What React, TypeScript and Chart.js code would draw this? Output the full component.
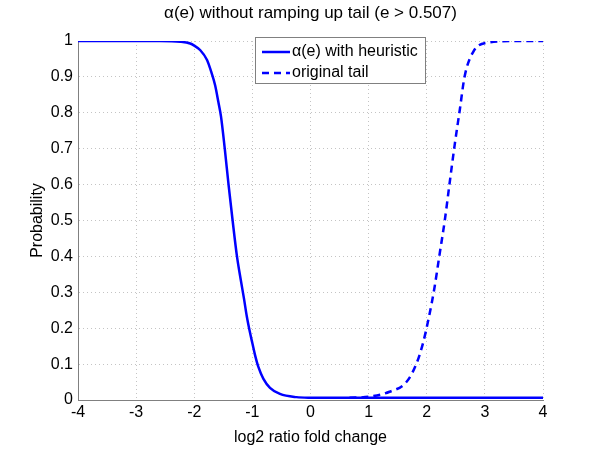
import React, { useEffect, useRef } from "react";
import { Chart, registerables } from "chart.js";

Chart.register(...registerables);

const titleText = "α(e) without ramping up tail (e > 0.507)";
const xLabel = "log2 ratio fold change";
const yLabel = "Probability";
const seriesNames = ["α(e) with heuristic", "original tail"];

const heuristicX = [-4, -3, -2.59, -2.24, -2.07, -2.0, -1.9, -1.78, -1.7, -1.64, -1.585, -1.54, -1.475, -1.41, -1.34, -1.265, -1.2, -1.143, -1.097, -1.04, -1.0, -0.954, -0.897, -0.81, -0.697, -0.526, -0.24, 0, 0.67, 1, 2, 3, 4];
const heuristicY = [1, 1, 1, 0.998, 0.993, 0.987, 0.975, 0.947, 0.91, 0.876, 0.83, 0.79, 0.7, 0.6, 0.5, 0.4, 0.335, 0.281, 0.234, 0.187, 0.158, 0.125, 0.092, 0.059, 0.034, 0.017, 0.008, 0.0065, 0.006, 0.006, 0.006, 0.006, 0.006];

const tailX = [0.67, 1.0, 1.36, 1.65, 1.82, 1.93, 2.03, 2.13, 2.22, 2.31, 2.39, 2.48, 2.57, 2.65, 2.8, 3.03, 3.5, 4];
const tailY = [0.006, 0.009, 0.023, 0.05, 0.1, 0.155, 0.225, 0.31, 0.405, 0.5, 0.6, 0.71, 0.81, 0.9, 0.97, 0.995, 1, 1];

const xMin = -4;
const xMax = 4;
const yMin = 0;
const yMax = 1;

const FONT = "'Liberation Sans', Arial, Helvetica, sans-serif";

const centeredTitle = {
  id: "centeredTitle",
  afterDraw(chart: any) {
    const { ctx, chartArea } = chart;
    ctx.save();
    ctx.fillStyle = "#000000";
    ctx.font = `17px ${FONT}`;
    ctx.textAlign = "center";
    ctx.textBaseline = "middle";
    ctx.fillText(titleText, (chartArea.left + chartArea.right) / 2, 13);
    ctx.restore();
  },
};

const insideLegend = {
  id: "insideLegend",
  afterDraw(chart: any) {
    const { ctx, chartArea } = chart;
    const x = chartArea.left + 177;
    const y = chartArea.top - 4;
    const w = 170;
    const h = 46;
    ctx.save();
    ctx.fillStyle = "#ffffff";
    ctx.fillRect(x, y, w, h);
    ctx.strokeStyle = "#808080";
    ctx.lineWidth = 1;
    ctx.strokeRect(x + 0.5, y + 0.5, w, h);
    chart.data.datasets.forEach((ds: any, i: number) => {
      const cy = y + 15 + i * 21;
      ctx.strokeStyle = ds.borderColor;
      ctx.lineWidth = ds.borderWidth;
      ctx.setLineDash(ds.borderDash || []);
      ctx.beginPath();
      ctx.moveTo(x + 7, cy);
      ctx.lineTo(x + 35, cy);
      ctx.stroke();
      ctx.setLineDash([]);
      ctx.fillStyle = "#000000";
      ctx.font = `16px ${FONT}`;
      ctx.textBaseline = "middle";
      ctx.textAlign = "left";
      ctx.fillText(ds.label, x + 37, cy);
    });
    ctx.restore();
  },
};

export default function App() {
  const ref = useRef<HTMLCanvasElement | null>(null);

  useEffect(() => {
    if (!ref.current) return;
    const chart = new Chart(ref.current, {
      type: "line",
      data: {
        datasets: [
          {
            label: seriesNames[0],
            data: heuristicX.map((x, i) => ({ x, y: heuristicY[i] })),
            borderColor: "#0000ff",
            borderWidth: 2.5,
            pointRadius: 0,
            cubicInterpolationMode: "monotone",
            fill: false,
          },
          {
            label: seriesNames[1],
            data: tailX.map((x, i) => ({ x, y: tailY[i] })),
            borderColor: "#0000ff",
            borderWidth: 2.5,
            borderDash: [7, 5],
            pointRadius: 0,
            cubicInterpolationMode: "monotone",
            fill: false,
          },
        ],
      },
      options: {
        animation: false,
        responsive: true,
        maintainAspectRatio: false,
        layout: { padding: { left: 0, right: 57, top: 41, bottom: 0 } },
        plugins: {
          legend: { display: false },
          tooltip: { enabled: false },
          title: { display: false },
        },
        scales: {
          x: {
            type: "linear",
            min: xMin,
            max: xMax,
            afterFit(scale: any) {
              scale.height = 50;
            },
            ticks: {
              stepSize: 1,
              color: "#000",
              font: { family: FONT, size: 16 },
              padding: 3,
              maxRotation: 0,
              callback: (v: any) => String(v),
            },
            grid: {
              color: "#c4c4c4",
              lineWidth: 1,
              drawTicks: false,
            },
            border: { display: true, color: "#808080", width: 1, dash: [1, 3] },
            title: {
              display: true,
              text: xLabel,
              color: "#000",
              font: { family: FONT, size: 16 },
              padding: { top: 0, bottom: 3 },
            },
          },
          y: {
            type: "linear",
            min: yMin,
            max: yMax,
            afterFit(scale: any) {
              scale.width = 78;
            },
            ticks: {
              stepSize: 0.1,
              color: "#000",
              font: { family: FONT, size: 16 },
              padding: 5,
              callback: (v: any) => String(Number(Number(v).toFixed(1))),
            },
            grid: {
              color: "#c4c4c4",
              lineWidth: 1,
              drawTicks: false,
            },
            border: { display: true, color: "#808080", width: 1, dash: [1, 3] },
            title: {
              display: true,
              text: yLabel,
              color: "#000",
              font: { family: FONT, size: 16 },
              padding: { top: 28, bottom: 0 },
            },
          },
        },
      },
      plugins: [insideLegend, centeredTitle],
    });
    return () => chart.destroy();
  }, []);

  return (
    <div style={{ position: "absolute", left: 0, top: 0, width: 600, height: 450, background: "#fff" }}>
      <canvas ref={ref} />
    </div>
  );
}
